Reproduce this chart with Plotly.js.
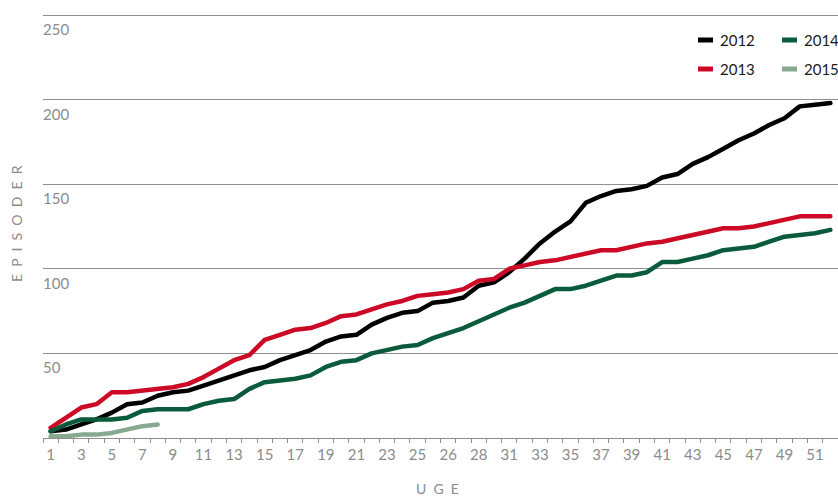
<!DOCTYPE html>
<html>
<head>
<meta charset="utf-8">
<script src="https://cdn.plot.ly/plotly-3.0.1.min.js"></script>
<style>
  html, body { margin: 0; padding: 0; background: #fff; }
  #chart { width: 838px; height: 496px; }
  .js-line { stroke-linejoin: round; stroke-linecap: round; }
</style>
</head>
<body>
<div id="chart"></div>
<script>
// Tick labels: x axis shows a label every second week; y axis tick values
const tickLabels = ['1','3','5','7','9','11','13','15','17','19','21','23','25',
                    '26','28','31','33','35','37','39','41','43','45','47','49','51'];
const yTicks = [50, 100, 150, 200, 250];

const years = ['2012', '2013', '2014', '2015'];
const colors = ['#000000', '#cc0a25', '#0a5b3b', '#86a98f'];

const s2012 = [4,5,8,11,15,20,21,25,27,28,31,34,37,40,42,46,49,52,57,60,
               61,67,71,74,75,80,81,83,90,92,98,106,115,122,128,139,143,146,147,149,
               154,156,162,166,171,176,180,185,189,196,197,198];
const s2013 = [6,12,18,20,27,27,28,29,30,32,36,41,46,49,58,61,64,65,68,72,
               73,76,79,81,84,85,86,88,93,94,100,102,104,105,107,109,111,111,113,115,
               116,118,120,122,124,124,125,127,129,131,131,131];
const s2014 = [4,8,11,11,11,12,16,17,17,17,20,22,23,29,33,34,35,37,42,45,
               46,50,52,54,55,59,62,65,69,73,77,80,84,88,88,90,93,96,96,98,
               104,104,106,108,111,112,113,116,119,120,121,123];
const s2015 = [1,1,2,2,3,5,7,8];

const series = [s2012, s2013, s2014, s2015];

const traces = series.map((vals, k) => ({
  type: 'scatter',
  mode: 'lines',
  name: years[k],
  x: vals.map((v, i) => i),
  y: vals,
  line: { color: colors[k], width: 4.5 },
  showlegend: false,
  hoverinfo: 'x+y'
}));

const tickvals = tickLabels.map((t, j) => j * 2);

// Plot area geometry (px) used for the hand-made legend and axis titles
const W = 838, H = 496, mL = 43, mR = 0, mT = 13, mB = 58;
const pw = W - mL - mR, ph = H - mT - mB;
const yTop = 250 * ph / 423;          // keeps 250 at the same pixel row as the reference
const px = x => (x - mL) / pw;
const py = y => (H - mB - y) / ph;

const legendPos = [
  { row: 40, lx: 698, tx: 718 },
  { row: 69, lx: 698, tx: 718 },
  { row: 40, lx: 782, tx: 802 },
  { row: 69, lx: 782, tx: 802 }
];

const shapes = legendPos.map((p, k) => ({
  type: 'line', xref: 'paper', yref: 'paper',
  x0: px(p.lx), x1: px(p.lx + 15), y0: py(p.row), y1: py(p.row),
  line: { color: colors[k], width: 5 }
}));

const fam = 'Lato, "Open Sans", sans-serif';
const tickFont = { family: fam, size: 15, color: '#8c8c8c' };
const nb = '\u00a0\u00a0';

const annotations = legendPos.map((p, k) => ({
  xref: 'paper', yref: 'paper', x: px(p.tx), y: py(p.row),
  xanchor: 'left', yanchor: 'middle', showarrow: false,
  text: years[k],
  font: { family: fam, size: 15, color: '#1a1a1a' }
}));

// y tick labels sit just under their gridlines, left aligned at the plot edge
yTicks.forEach(v => annotations.push({
  xref: 'paper', yref: 'y', x: 0, xshift: -2, y: v, yshift: -14,
  xanchor: 'left', yanchor: 'middle', showarrow: false,
  text: String(v), font: tickFont
}));

annotations.push({
  xref: 'paper', yref: 'paper', x: 0, xshift: -27, y: py(224),
  xanchor: 'center', yanchor: 'middle', textangle: -90, showarrow: false,
  text: ['E','P','I','S','O','D','E','R'].join(nb),
  font: { family: fam, size: 14, color: '#8c8c8c' }
});
annotations.push({
  xref: 'paper', yref: 'paper', x: px(437), y: 0, yshift: -50,
  xanchor: 'center', yanchor: 'middle', showarrow: false,
  text: ['U','G','E'].join(nb),
  font: { family: fam, size: 14, color: '#8c8c8c' }
});

const layout = {
  width: W, height: H,
  margin: { l: mL, r: mR, t: mT, b: mB, pad: 0 },
  paper_bgcolor: '#ffffff',
  plot_bgcolor: '#ffffff',
  showlegend: false,
  xaxis: {
    range: [-0.5, 51.5],
    tickmode: 'array',
    tickvals: tickvals,
    ticktext: tickLabels,
    ticks: '',
    showgrid: false,
    zeroline: false,
    showline: true,
    linecolor: '#8f8f8f',
    linewidth: 1,
    tickfont: tickFont,
    ticklabelstandoff: 3,
    minor: { tickmode: 'linear', tick0: -0.5, dtick: 1, ticks: 'outside', ticklen: 4, tickcolor: '#8f8f8f', tickwidth: 1, showgrid: false }
  },
  yaxis: {
    range: [0, yTop],
    tickmode: 'array',
    tickvals: yTicks,
    ticks: '',
    showticklabels: false,
    showgrid: true,
    gridcolor: '#8f8f8f',
    gridwidth: 1,
    zeroline: false,
    showline: false
  },
  shapes: shapes,
  annotations: annotations
};

Plotly.newPlot('chart', traces, layout, { displayModeBar: false, staticPlot: true });
</script>
</body>
</html>
